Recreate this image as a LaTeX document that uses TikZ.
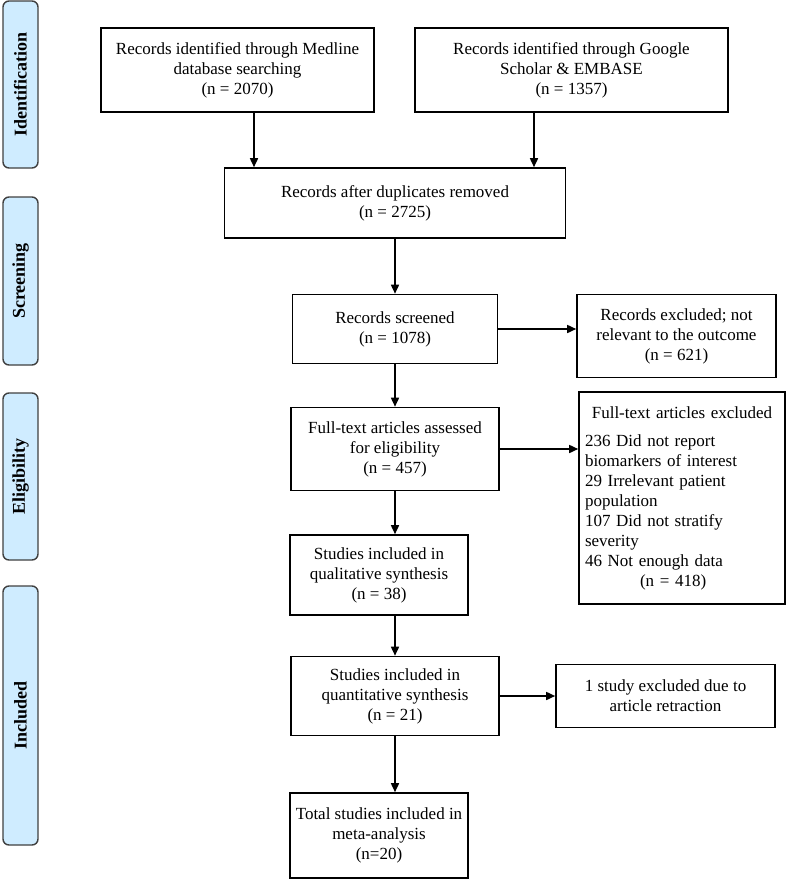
\documentclass[tikz,border=0pt]{standalone}
\usepackage{fontspec}
\setmainfont{Liberation Serif}
\usepackage{tikz}
\usetikzlibrary{calc,positioning,arrows.meta}
\definecolor{phaseblue}{RGB}{207,236,255}
\tikzstyle{box}   = [draw=black, line width=1.6pt, align=center, inner sep=2pt, font=\fontsize{17}{20}\selectfont]
\tikzstyle{phase} = [draw=black!75, fill=phaseblue, line width=1.4pt, rounded corners=6pt, minimum width=35pt, rotate=90, font=\fontsize{18}{20}\selectfont\bfseries]
\tikzstyle{arrow} = [line width=1.6pt,-{Triangle[length=9pt,width=8pt]}]

\begin{document}
\begin{tikzpicture}[x=1pt,y=-1pt]
	\useasboundingbox (0,0) rectangle (787,887);

	% phases
	\node[phase, minimum width=167pt, minimum height=35pt] (ident) at (20.5,84.5) {Identification};
	\node[phase, minimum width=168pt, minimum height=35pt] (screen) at (20.5,281) {Screening};
	\node[phase, minimum width=167pt, minimum height=35pt] (elig) at (20.5,476.5) {Eligibility};
	\node[phase, minimum width=259pt, minimum height=35pt] (incl) at (20.5,715.5) {Included};

	% boxes
	\node[box, minimum width=273pt, minimum height=84pt] (medline) at (237.5,70) {Records identified through Medline\\database searching\\(n = 2070)};
	\node[box, minimum width=313pt, minimum height=84pt] (scholar) at (571.5,70) {Records identified through Google\\Scholar \& EMBASE\\(n = 1357)};
	\node[box, minimum width=341pt, minimum height=70pt] (dup) at (395,203) {Records after duplicates removed\\(n = 2725)};
	\node[box, minimum width=205pt, minimum height=69pt] (screened) at (395,329) {Records screened\\(n = 1078)};
	\node[box, minimum width=199pt, minimum height=83pt] (exclA) at (676.5,336) {Records excluded; not\\relevant to the outcome\\(n = 621)};
	\node[box, minimum width=208pt, minimum height=83pt] (fulltext) at (395,449) {Full-text articles assessed\\for eligibility\\(n = 457)};
	\node[box, minimum width=206pt, minimum height=212pt, text width=194pt, align=left] (exclB) at (682,498) {\makebox[\linewidth]{Full-text articles excluded}\\[8pt]
		236 Did not report\\biomarkers of interest\\29 Irrelevant patient\\population\\107 Did not stratify\\severity\\46 Not enough data\\\hspace*{55pt}(n = 418)};
	\node[box, minimum width=178pt, minimum height=80pt] (qual) at (379,575) {Studies included in\\qualitative synthesis\\(n = 38)};
	\node[box, minimum width=208pt, minimum height=79pt] (quant) at (395,696) {Studies included in\\quantitative synthesis\\(n = 21)};
	\node[box, minimum width=219pt, minimum height=63pt] (exclC) at (665.5,696) {1 study excluded due to\\article retraction};
	\node[box, minimum width=178pt, minimum height=85pt] (total) at (379,835.5) {Total studies included in\\meta-analysis\\(n=20)};

	% arrows
	\coordinate (ma) at ([xshift=16.5pt]medline.south);
	\coordinate (sa) at ([xshift=-37.5pt]scholar.south);
	\draw[arrow] (ma) -- (ma |- dup.north);
	\draw[arrow] (sa) -- (sa |- dup.north);
	\draw[arrow] (dup.south) -- (dup.south |- screened.north);
	\draw[arrow] (screened.east) -- (screened.east -| exclA.west);
	\draw[arrow] (screened.south) -- (screened.south |- fulltext.north);
	\draw[arrow] (fulltext.east) -- (fulltext.east -| exclB.west);
	\draw[arrow] (fulltext.south) -- (fulltext.south |- qual.north);
	\draw[arrow] (fulltext.south |- qual.south) -- (fulltext.south |- quant.north);
	\draw[arrow] (quant.east) -- (quant.east -| exclC.west);
	\draw[arrow] (quant.south) -- (quant.south |- total.north);
\end{tikzpicture}
\end{document}
